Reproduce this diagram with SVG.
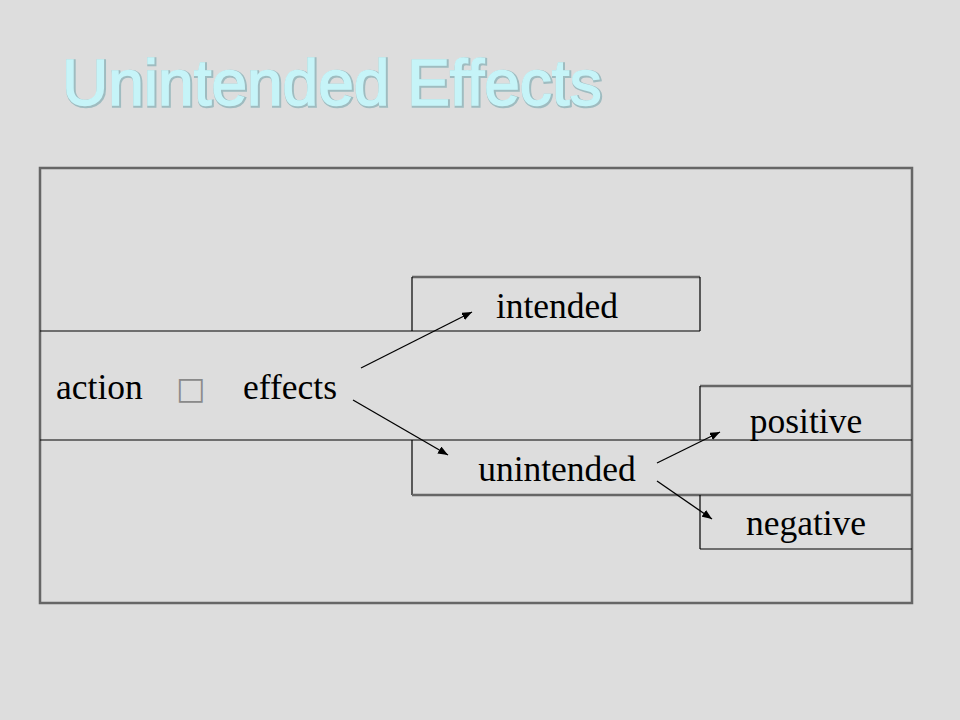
<svg xmlns="http://www.w3.org/2000/svg" width="960" height="720" viewBox="0 0 960 720">
<defs>
<style>
.bg{fill:#dddddd}
.heavy{stroke:#666666;stroke-width:2.5;fill:none}
.thin{stroke:#000000;stroke-width:1.2;fill:none}
.lbl{font-family:"Liberation Serif","Times New Roman",serif;font-size:35.5px;fill:#000000}
.mid{text-anchor:middle}
.title{font-family:"Liberation Sans",Arial,sans-serif;font-size:64px;fill:#c6f4f8;stroke:#9cc4c9;stroke-width:2}
.conn{stroke:#000000;stroke-width:1.3;fill:none;marker-end:url(#ah)}
</style>
<marker id="ah" viewBox="0 0 10 8" refX="10" refY="4" markerWidth="10" markerHeight="8" markerUnits="userSpaceOnUse" orient="auto">
<path d="M0,0 L10,4 L0,8 Z" fill="#000000"/>
</marker>
</defs>
<rect class="bg" x="0" y="0" width="960" height="720"/>
<g id="title">
<text class="title" x="62" y="105" style="stroke:#9fbcc0;stroke-width:3.5" transform="translate(1,1)">Unintended Effects</text>
<text class="title" x="62" y="105" style="stroke:#c6f4f8;stroke-width:1.5">Unintended Effects</text>
</g>
<g id="frame">
<rect class="heavy" x="40" y="168" width="872" height="435"/>
<line class="thin" x1="40" y1="331" x2="700" y2="331"/>
<line class="thin" x1="40" y1="440" x2="912" y2="440"/>
</g>
<g id="action-effects">
<text class="lbl" x="56" y="399">action</text>
<text x="176" y="399" style="font-family:'DejaVu Sans',sans-serif;font-size:31px;fill:#8a8a8a">□</text>
<text class="lbl" x="243" y="399">effects</text>
</g>
<g id="intended">
<line class="heavy" x1="412" y1="277" x2="700" y2="277"/>
<line class="thin" x1="412" y1="277" x2="412" y2="331"/>
<line class="thin" x1="700" y1="277" x2="700" y2="331"/>
<text class="lbl mid" x="557" y="318">intended</text>
</g>
<g id="unintended">
<line class="thin" x1="412" y1="440" x2="412" y2="495"/>
<line class="heavy" x1="412" y1="495" x2="700" y2="495"/>
<text class="lbl mid" x="557" y="481">unintended</text>
</g>
<g id="positive">
<line class="heavy" x1="700" y1="386" x2="912" y2="386"/>
<line class="thin" x1="700" y1="386" x2="700" y2="440"/>
<text class="lbl mid" x="806" y="433">positive</text>
</g>
<g id="negative">
<line class="heavy" x1="700" y1="495" x2="912" y2="495"/>
<line class="thin" x1="700" y1="495" x2="700" y2="549"/>
<line class="thin" x1="700" y1="549" x2="912" y2="549"/>
<text class="lbl mid" x="806" y="535">negative</text>
</g>
<g id="connectors">
<line class="conn" x1="361" y1="368" x2="472" y2="312"/>
<line class="conn" x1="353" y1="400" x2="448" y2="455"/>
<line class="conn" x1="657" y1="463" x2="720" y2="432"/>
<line class="conn" x1="657" y1="481" x2="712" y2="519"/>
</g>
</svg>
